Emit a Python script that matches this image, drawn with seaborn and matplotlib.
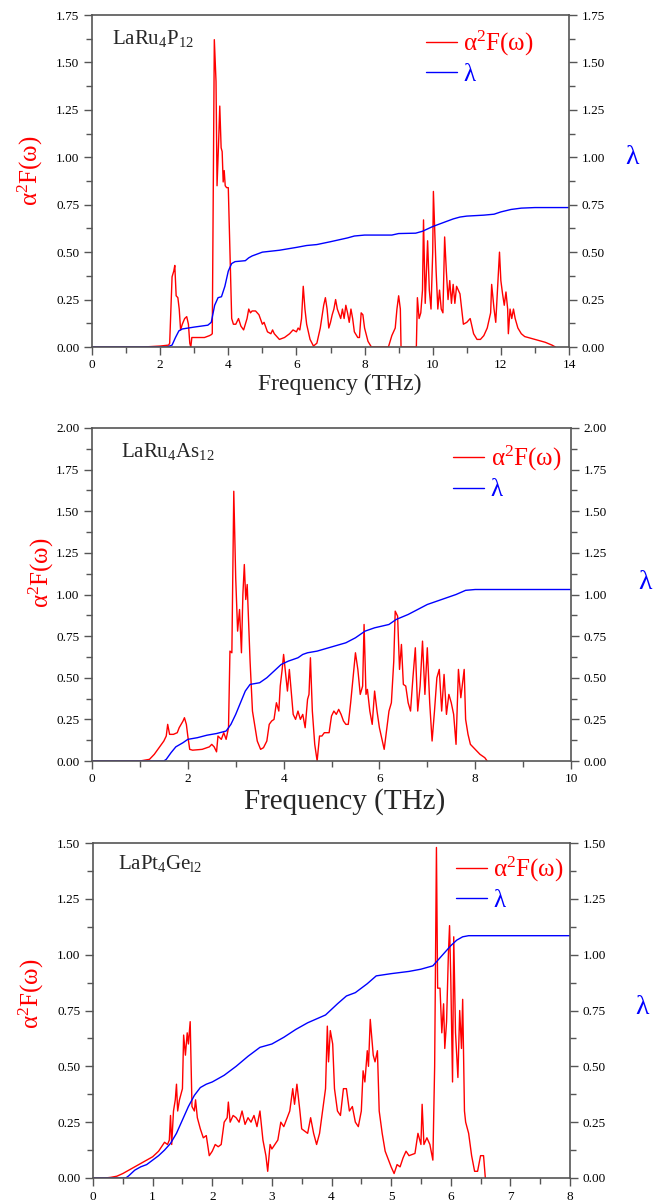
import numpy as np
import pandas as pd
import matplotlib
matplotlib.use("Agg")
import matplotlib.pyplot as plt
from matplotlib.ticker import MultipleLocator, FormatStrFormatter
from matplotlib.lines import Line2D
import seaborn as sns

# ---------------- data ----------------
titles = ["LaRu$_4$P$_{12}$", "LaRu$_4$As$_{12}$", "LaPt$_4$Ge$_{l2}$"]
xmax = [14, 10, 8]
ymax = [1.75, 2.00, 1.50]
xmajor = [2, 2, 1]

ru4p12_a2f = [
    (0.0, 0), (1.5, 0.0), (2.0, 0.005), (2.25, 0.01), (2.28, 0.02), (2.35, 0.37), (2.40, 0.40),
    (2.43, 0.43), (2.47, 0.27), (2.52, 0.26), (2.56, 0.20), (2.60, 0.09), (2.65, 0.12), (2.72, 0.15),
    (2.78, 0.16), (2.83, 0.12), (2.87, 0.02), (2.90, 0.0), (2.93, 0.05), (3.0, 0.05), (3.3, 0.05),
    (3.45, 0.06), (3.50, 0.065), (3.53, 0.07), (3.59, 1.62), (3.64, 1.40), (3.67, 0.85), (3.72, 1.10),
    (3.75, 1.27), (3.79, 1.05), (3.82, 1.03), (3.85, 0.87), (3.88, 0.93), (3.91, 0.85), (3.95, 0.84),
    (4.0, 0.84), (4.05, 0.50), (4.10, 0.15), (4.15, 0.12), (4.22, 0.12), (4.30, 0.15), (4.37, 0.11),
    (4.45, 0.09), (4.55, 0.15), (4.60, 0.20), (4.65, 0.18), (4.70, 0.19), (4.80, 0.19), (4.90, 0.17),
    (5.0, 0.12), (5.05, 0.13), (5.15, 0.08), (5.25, 0.07), (5.30, 0.09), (5.35, 0.07), (5.5, 0.04),
    (5.65, 0.05), (5.8, 0.07), (5.9, 0.09), (6.0, 0.08), (6.05, 0.10), (6.10, 0.09), (6.15, 0.15),
    (6.20, 0.32), (6.25, 0.20), (6.30, 0.12), (6.40, 0.04), (6.50, 0.005), (6.60, 0.02), (6.70, 0.10),
    (6.80, 0.22), (6.85, 0.26), (6.90, 0.20), (6.95, 0.10), (7.0, 0.13), (7.05, 0.17), (7.10, 0.20),
    (7.15, 0.25), (7.20, 0.20), (7.30, 0.15), (7.35, 0.20), (7.40, 0.15), (7.45, 0.22), (7.50, 0.18),
    (7.55, 0.13), (7.60, 0.20), (7.65, 0.15), (7.70, 0.08), (7.80, 0.05), (7.85, 0.05), (7.90, 0.18),
    (7.95, 0.17), (8.0, 0.10), (8.1, 0.03), (8.2, 0.0), (8.7, 0.0), (8.8, 0.06), (8.9, 0.10),
    (8.95, 0.20), (9.0, 0.27), (9.05, 0.20), (9.07, 0.0), (9.52, 0.0), (9.55, 0.26), (9.60, 0.15),
    (9.65, 0.18), (9.70, 0.30), (9.73, 0.67), (9.78, 0.23), (9.85, 0.56), (9.90, 0.30), (9.95, 0.20),
    (10.0, 0.50), (10.02, 0.82), (10.10, 0.40), (10.15, 0.20), (10.20, 0.30), (10.25, 0.20),
    (10.30, 0.18), (10.35, 0.58), (10.40, 0.40), (10.45, 0.25), (10.50, 0.35), (10.55, 0.23),
    (10.60, 0.33), (10.65, 0.23), (10.70, 0.32), (10.80, 0.28), (10.85, 0.20), (10.90, 0.12),
    (11.0, 0.13), (11.1, 0.15), (11.2, 0.07), (11.3, 0.04), (11.4, 0.04), (11.5, 0.06), (11.6, 0.10),
    (11.7, 0.18), (11.73, 0.33), (11.80, 0.20), (11.85, 0.13), (11.90, 0.30), (11.96, 0.50),
    (12.0, 0.35), (12.05, 0.28), (12.10, 0.22), (12.15, 0.29), (12.20, 0.20), (12.22, 0.07),
    (12.27, 0.20), (12.32, 0.15), (12.37, 0.20), (12.42, 0.15), (12.50, 0.10), (12.60, 0.07),
    (12.70, 0.055), (13.0, 0.04), (13.3, 0.025), (13.5, 0.01), (13.6, 0.0),
]
ru4p12_lam = [
    (0.0, 0), (2.2, 0.0), (2.35, 0.01), (2.45, 0.05), (2.55, 0.085), (2.65, 0.095), (3.0, 0.105),
    (3.4, 0.115), (3.5, 0.13), (3.6, 0.22), (3.7, 0.26), (3.8, 0.265), (3.9, 0.32), (4.0, 0.40),
    (4.1, 0.44), (4.2, 0.45), (4.5, 0.455), (4.6, 0.47), (4.7, 0.48), (5.0, 0.50), (5.5, 0.51),
    (6.0, 0.525), (6.3, 0.535), (6.6, 0.54), (7.0, 0.555), (7.5, 0.575), (7.7, 0.585), (8.0, 0.59),
    (8.8, 0.59), (9.0, 0.598), (9.5, 0.60), (9.7, 0.61), (10.0, 0.635), (10.3, 0.655), (10.6, 0.675),
    (10.8, 0.685), (11.0, 0.69), (11.5, 0.695), (11.8, 0.70), (12.0, 0.712), (12.3, 0.725),
    (12.6, 0.732), (13.0, 0.735), (14.0, 0.735),
]

ru4as12_a2f = [
    (0.0, 0), (1.0, 0.0), (1.2, 0.01), (1.3, 0.04), (1.4, 0.08), (1.5, 0.12), (1.55, 0.15),
    (1.58, 0.22), (1.62, 0.16), (1.70, 0.16), (1.78, 0.17), (1.82, 0.20), (1.90, 0.24), (1.93, 0.26),
    (1.97, 0.22), (2.0, 0.15), (2.04, 0.07), (2.1, 0.065), (2.3, 0.07), (2.45, 0.085), (2.50, 0.10),
    (2.55, 0.085), (2.60, 0.055), (2.63, 0.15), (2.70, 0.13), (2.75, 0.17), (2.80, 0.13), (2.85, 0.20),
    (2.88, 0.66), (2.92, 0.65), (2.96, 1.62), (3.00, 1.10), (3.04, 0.78), (3.08, 0.91), (3.12, 0.65),
    (3.15, 1.00), (3.18, 1.18), (3.21, 0.97), (3.24, 1.06), (3.30, 0.60), (3.35, 0.30), (3.45, 0.12),
    (3.52, 0.07), (3.58, 0.08), (3.65, 0.12), (3.70, 0.22), (3.75, 0.24), (3.80, 0.25), (3.85, 0.35),
    (3.90, 0.30), (3.93, 0.45), (3.97, 0.55), (4.00, 0.64), (4.05, 0.50), (4.08, 0.42), (4.12, 0.55),
    (4.15, 0.45), (4.20, 0.28), (4.25, 0.25), (4.30, 0.30), (4.35, 0.25), (4.40, 0.28), (4.45, 0.20),
    (4.50, 0.37), (4.53, 0.40), (4.56, 0.62), (4.60, 0.30), (4.65, 0.10), (4.70, 0.0), (4.75, 0.15),
    (4.80, 0.15), (4.85, 0.17), (4.95, 0.17), (5.00, 0.27), (5.05, 0.30), (5.10, 0.28), (5.15, 0.31),
    (5.20, 0.28), (5.25, 0.24), (5.30, 0.22), (5.35, 0.22), (5.40, 0.35), (5.50, 0.65), (5.55, 0.55),
    (5.60, 0.40), (5.65, 0.45), (5.68, 0.82), (5.72, 0.40), (5.75, 0.43), (5.80, 0.30), (5.85, 0.22),
    (5.90, 0.42), (5.95, 0.30), (6.00, 0.20), (6.10, 0.07), (6.20, 0.30), (6.25, 0.35), (6.30, 0.60),
    (6.33, 0.90), (6.38, 0.87), (6.42, 0.55), (6.46, 0.70), (6.50, 0.46), (6.55, 0.45), (6.60, 0.35),
    (6.65, 0.30), (6.70, 0.50), (6.75, 0.68), (6.80, 0.30), (6.85, 0.45), (6.90, 0.72), (6.95, 0.40),
    (7.00, 0.68), (7.05, 0.35), (7.10, 0.12), (7.15, 0.30), (7.20, 0.50), (7.25, 0.55), (7.30, 0.30),
    (7.35, 0.52), (7.40, 0.28), (7.45, 0.40), (7.50, 0.35), (7.55, 0.28), (7.60, 0.10), (7.65, 0.55),
    (7.70, 0.38), (7.77, 0.55), (7.80, 0.25), (7.85, 0.16), (7.90, 0.10), (8.00, 0.07), (8.10, 0.04),
    (8.20, 0.02), (8.25, 0.0),
]
ru4as12_lam = [
    (0.0, 0), (1.5, 0.0), (1.55, 0.01), (1.65, 0.05), (1.75, 0.085), (1.9, 0.11), (2.0, 0.13),
    (2.2, 0.14), (2.4, 0.155), (2.6, 0.165), (2.8, 0.18), (2.9, 0.22), (3.0, 0.28), (3.1, 0.35),
    (3.2, 0.42), (3.3, 0.46), (3.5, 0.47), (3.65, 0.50), (3.8, 0.54), (3.95, 0.58), (4.1, 0.60),
    (4.3, 0.62), (4.4, 0.64), (4.5, 0.65), (4.7, 0.66), (5.0, 0.685), (5.3, 0.71), (5.5, 0.74),
    (5.7, 0.78), (5.9, 0.80), (6.2, 0.82), (6.35, 0.85), (6.6, 0.88), (6.8, 0.91), (7.0, 0.94),
    (7.3, 0.97), (7.6, 1.00), (7.8, 1.025), (8.0, 1.03), (10.0, 1.03),
]

pt4ge12_a2f = [
    (0.0, 0), (0.2, 0.0), (0.3, 0.003), (0.4, 0.008), (0.5, 0.02), (0.6, 0.035), (0.7, 0.05),
    (0.8, 0.065), (0.9, 0.08), (1.0, 0.095), (1.1, 0.12), (1.15, 0.14), (1.2, 0.16), (1.25, 0.15),
    (1.28, 0.17), (1.30, 0.28), (1.32, 0.15), (1.35, 0.30), (1.38, 0.35), (1.40, 0.42), (1.42, 0.30),
    (1.45, 0.35), (1.50, 0.40), (1.52, 0.64), (1.55, 0.55), (1.58, 0.65), (1.60, 0.60), (1.63, 0.70),
    (1.66, 0.32), (1.70, 0.30), (1.72, 0.35), (1.75, 0.27), (1.80, 0.22), (1.85, 0.18), (1.90, 0.19),
    (1.95, 0.10), (2.00, 0.12), (2.05, 0.15), (2.10, 0.14), (2.15, 0.15), (2.20, 0.25), (2.25, 0.27),
    (2.27, 0.34), (2.30, 0.25), (2.35, 0.28), (2.40, 0.27), (2.45, 0.25), (2.50, 0.30), (2.55, 0.24),
    (2.60, 0.27), (2.65, 0.25), (2.70, 0.28), (2.75, 0.23), (2.80, 0.30), (2.85, 0.17), (2.90, 0.10),
    (2.93, 0.03), (2.97, 0.15), (3.00, 0.13), (3.05, 0.15), (3.10, 0.17), (3.15, 0.25), (3.20, 0.23),
    (3.30, 0.30), (3.35, 0.40), (3.38, 0.33), (3.42, 0.42), (3.47, 0.30), (3.50, 0.22), (3.60, 0.20),
    (3.65, 0.27), (3.70, 0.20), (3.75, 0.15), (3.80, 0.20), (3.85, 0.30), (3.90, 0.40), (3.93, 0.68),
    (3.95, 0.52), (3.98, 0.66), (4.02, 0.60), (4.05, 0.40), (4.10, 0.30), (4.15, 0.28), (4.20, 0.40),
    (4.25, 0.40), (4.30, 0.30), (4.35, 0.32), (4.40, 0.25), (4.45, 0.23), (4.50, 0.30), (4.53, 0.48),
    (4.56, 0.43), (4.60, 0.57), (4.62, 0.50), (4.65, 0.71), (4.70, 0.55), (4.73, 0.52), (4.77, 0.57),
    (4.80, 0.30), (4.85, 0.20), (4.90, 0.12), (5.00, 0.05), (5.05, 0.02), (5.10, 0.06), (5.15, 0.05),
    (5.20, 0.09), (5.25, 0.12), (5.30, 0.10), (5.40, 0.11), (5.45, 0.20), (5.50, 0.15), (5.52, 0.33),
    (5.55, 0.15), (5.60, 0.18), (5.65, 0.15), (5.70, 0.08), (5.73, 0.50), (5.76, 1.48), (5.78, 0.85),
    (5.82, 0.85), (5.85, 0.65), (5.88, 0.78), (5.90, 0.58), (5.93, 0.70), (5.96, 1.00), (5.98, 1.13),
    (6.00, 0.90), (6.03, 0.43), (6.05, 1.08), (6.08, 0.65), (6.10, 0.55), (6.12, 0.45), (6.15, 0.75),
    (6.18, 0.58), (6.20, 0.80), (6.23, 0.30), (6.25, 0.25), (6.30, 0.20), (6.35, 0.10), (6.40, 0.03),
    (6.45, 0.03), (6.50, 0.10), (6.55, 0.10), (6.58, 0.0),
]
pt4ge12_lam = [
    (0.0, 0), (0.55, 0.0), (0.6, 0.01), (0.7, 0.035), (0.8, 0.05), (0.9, 0.06), (1.0, 0.08),
    (1.1, 0.10), (1.2, 0.125), (1.3, 0.155), (1.4, 0.20), (1.5, 0.26), (1.6, 0.32), (1.7, 0.37),
    (1.8, 0.405), (1.9, 0.42), (2.0, 0.43), (2.2, 0.46), (2.4, 0.50), (2.6, 0.545), (2.8, 0.585),
    (3.0, 0.60), (3.2, 0.63), (3.4, 0.665), (3.6, 0.695), (3.9, 0.73), (4.1, 0.78), (4.25, 0.815),
    (4.4, 0.83), (4.6, 0.87), (4.75, 0.905), (5.0, 0.915), (5.3, 0.925), (5.5, 0.935), (5.7, 0.95),
    (5.8, 0.98), (5.9, 1.01), (6.0, 1.04), (6.1, 1.065), (6.2, 1.08), (6.3, 1.085), (8.0, 1.085),
]

a2f_series = [ru4p12_a2f, ru4as12_a2f, pt4ge12_a2f]
lam_series = [ru4p12_lam, ru4as12_lam, pt4ge12_lam]

# ---------------- styling ----------------
sns.set_style("ticks")
plt.rcParams["font.family"] = ["Liberation Serif", "DejaVu Serif"]
plt.rcParams["mathtext.fontset"] = "custom"
plt.rcParams["mathtext.rm"] = "Liberation Serif"
plt.rcParams["mathtext.it"] = "Liberation Serif"
plt.rcParams["axes.edgecolor"] = "#555555"
plt.rcParams["xtick.color"] = "#555555"
plt.rcParams["ytick.color"] = "#555555"
plt.rcParams["xtick.labelcolor"] = "black"
plt.rcParams["ytick.labelcolor"] = "black"

RED = "#ff0000"
BLUE = "#0000ff"

fig = plt.figure(figsize=(6.53, 12.04), dpi=100)
W, H = 653, 1204

# axes pixel boxes: left, right, top, bottom
boxes = [(92, 569, 15, 347), (92, 571, 428, 761), (93, 570, 843, 1178)]
ylab_pos = [(-0.13, 0.53), (-0.105, 0.565), (-0.13, 0.55)]
lam_pos = [(1.132, 0.572), (1.155, 0.535), (1.15, 0.51)]
title_pos = [(0.042, 0.928), (0.06, 0.928), (0.052, 0.94)]
leg_pos = [(0.700, 0.958), (0.754, 0.951), (0.761, 0.965)]
xlabel_size = [17, 21, None]
xlabel_x = [0.52, 0.527, 0.5]
xlabel_y = [-0.082, -0.08, 0]

for i in range(3):
    l, r, t, b = boxes[i]
    ax = fig.add_axes([l / W, 1 - b / H, (r - l) / W, (b - t) / H])
    da = pd.DataFrame(a2f_series[i], columns=["freq", "val"])
    dl = pd.DataFrame(lam_series[i], columns=["freq", "val"])
    sns.lineplot(data=da, x="freq", y="val", ax=ax, color=RED, lw=1.0,
                 estimator=None, sort=False)
    sns.lineplot(data=dl, x="freq", y="val", ax=ax, color=BLUE, lw=1.0,
                 estimator=None, sort=False)
    ax.set_xlim(0, xmax[i])
    ax.set_ylim(0, ymax[i])
    ax.xaxis.set_major_locator(MultipleLocator(xmajor[i]))
    ax.xaxis.set_minor_locator(MultipleLocator(xmajor[i] / 2))
    ax.yaxis.set_major_locator(MultipleLocator(0.25))
    ax.yaxis.set_minor_locator(MultipleLocator(0.125))
    ax.yaxis.set_major_formatter(FormatStrFormatter("%.2f"))
    for s in ax.spines.values():
        s.set_visible(True)
        s.set_linewidth(1.2)
    ax.tick_params(which="both", direction="out", left=True, right=True, top=False,
                   bottom=True, labelleft=True, labelright=True, labelsize=9.5, width=1.0)
    ax.tick_params(which="major", length=6, pad=3)
    ax.tick_params(which="minor", length=4)
    ax.set_ylabel("")
    if xlabel_size[i]:
        ax.set_xlabel("Frequency (THz)", fontsize=xlabel_size[i])
        ax.xaxis.set_label_coords(xlabel_x[i], xlabel_y[i])
    else:
        ax.set_xlabel("")
    ax.text(*ylab_pos[i], "α$^2$F(ω)", color=RED, fontsize=18, rotation=90,
            transform=ax.transAxes, ha="center", va="center")
    ax.text(*lam_pos[i], "λ", color=BLUE, fontsize=20, transform=ax.transAxes,
            ha="center", va="center")
    ax.text(*title_pos[i], titles[i], fontsize=15, transform=ax.transAxes,
            ha="left", va="center")
    handles = [Line2D([], [], color=RED, lw=1.0), Line2D([], [], color=BLUE, lw=1.0)]
    leg = ax.legend(handles, ["α$^2$F(ω)", "λ"], loc="upper left",
                    bbox_to_anchor=leg_pos[i], frameon=False, fontsize=18,
                    handlelength=1.25, handletextpad=0.25, labelspacing=0.22,
                    borderpad=0, borderaxespad=0)
    for txt, c in zip(leg.get_texts(), [RED, BLUE]):
        txt.set_color(c)

fig.savefig("out.png", dpi=100)
